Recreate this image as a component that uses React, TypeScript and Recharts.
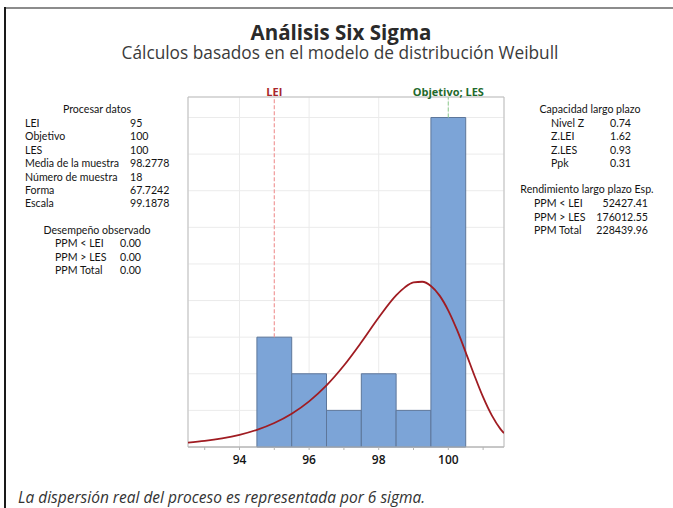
import React from "react";
import {
    ComposedChart,
    Line,
    XAxis,
    YAxis,
    CartesianGrid,
    ReferenceArea,
    ReferenceLine,
} from "recharts";

// Histogram bins (unit width) and the fitted Weibull curve
const binCenters = [95, 96, 97, 98, 99, 100];
const binCounts = [3, 2, 1, 2, 1, 9];
const curveX = [
    92.52, 93, 93.5, 94, 94.5, 95, 95.5, 96, 96.5, 97, 97.5, 98, 98.5, 98.75,
    99, 99.25, 99.5, 99.75, 100, 100.25, 100.5, 100.75, 101, 101.25, 101.5, 101.6,
];
const curveY = [
    0.118, 0.165, 0.235, 0.332, 0.468, 0.655, 0.908, 1.246, 1.682, 2.225, 2.86,
    3.535, 4.139, 4.36, 4.494, 4.514, 4.399, 4.135, 3.727, 3.197, 2.586, 1.954,
    1.361, 0.863, 0.489, 0.377,
];
const xTicks = [93, 94, 95, 96, 97, 98, 99, 100, 101];
const xLabelTicks = [94, 96, 98, 100];
const yGridTicks = [0, 1, 2, 3, 4, 5, 6, 7, 8, 9];
const X_DOMAIN: [number, number] = [92.52, 101.6];
const Y_DOMAIN: [number, number] = [0, 9.56];
const LEI = 95;
const LES = 100;

const processLabels = ["LEI", "Objetivo", "LES", "Media de la muestra", "Número de muestra", "Forma", "Escala"];
const processValues = ["95", "100", "100", "98.2778", "18", "67.7242", "99.1878"];
const observedLabels = ["PPM < LEI", "PPM > LES", "PPM Total"];
const observedValues = ["0.00", "0.00", "0.00"];
const capacityLabels = ["Nivel Z", "Z.LEI", "Z.LES", "Ppk"];
const capacityValues = ["0.74", "1.62", "0.93", "0.31"];
const yieldLabels = ["PPM < LEI", "PPM > LES", "PPM Total"];
const yieldValues = ["52427.41", "176012.55", "228439.96"];

const FONT = "'Open Sans', 'Noto Sans', sans-serif";
const PANEL_FONT = "Lato, 'Open Sans', sans-serif";
const TXT = "#141414";

const curveData = curveX.map((x, i) => ({ x, y: curveY[i] }));
const countAt = (x: number) => binCounts[binCenters.indexOf(x)];

const AxisTick = (props: any) => {
    const { x, y, payload } = props;
    if (!xLabelTicks.includes(payload.value)) return <g />;
    return (
        <text
            x={x}
            y={y}
            dy={12}
            textAnchor="middle"
            fontSize={12}
            fontWeight={600}
            fill={TXT}
            fontFamily={FONT}
        >
            {payload.value}
        </text>
    );
};

// absolutely placed text line, centred vertically on cy
const Txt: React.FC<{
    x: number;
    cy: number;
    align?: "left" | "center" | "right";
    children: React.ReactNode;
}> = ({ x, cy, align = "left", children }) => {
    const style: React.CSSProperties = {
        position: "absolute",
        top: cy - 7,
        height: 14,
        lineHeight: "14px",
        fontSize: 10.6,
        fontFamily: PANEL_FONT,
        whiteSpace: "nowrap",
        color: TXT,
    };
    if (align === "left") style.left = x;
    if (align === "right") style.right = 673 - x;
    if (align === "center") {
        style.left = x - 150;
        style.width = 300;
        style.textAlign = "center";
    }
    return <div style={style}>{children}</div>;
};

export default function App() {
    return (
        <div
            style={{
                position: "absolute",
                left: 0,
                top: 0,
                width: 673,
                height: 508,
                background: "#fff",
                overflow: "hidden",
                fontFamily: FONT,
            }}
        >
            {/* frame of the output window */}
            <div style={{ position: "absolute", left: 5, top: 7, right: 0, height: 2, background: "#8c8c8c" }} />
            <div style={{ position: "absolute", left: 4, top: 7, bottom: 0, width: 2, background: "#1a1a1a" }} />

            <div style={{ position: "absolute", left: 0, width: 682, top: 21, height: 22, lineHeight: "22px", textAlign: "center", fontSize: 20.5, fontWeight: 700, color: "#2a2a2a" }}>
                Análisis Six Sigma
            </div>
            <div style={{ position: "absolute", left: 0, width: 680, top: 43, height: 19, lineHeight: "19px", textAlign: "center", fontSize: 17.3, color: "#3a3a3a" }}>
                Cálculos basados en el modelo de distribución Weibull
            </div>

            {/* left panel */}
            <Txt x={97} cy={109} align="center">Procesar datos</Txt>
            {processLabels.map((l, i) => (
                <React.Fragment key={l}>
                    <Txt x={25} cy={123 + i * 13.4}>{l}</Txt>
                    <Txt x={130} cy={123 + i * 13.4}>{processValues[i]}</Txt>
                </React.Fragment>
            ))}
            <Txt x={97} cy={230} align="center">Desempeño observado</Txt>
            {observedLabels.map((l, i) => (
                <React.Fragment key={l}>
                    <Txt x={55} cy={243 + i * 13.5}>{l}</Txt>
                    <Txt x={120} cy={243 + i * 13.5}>{observedValues[i]}</Txt>
                </React.Fragment>
            ))}

            {/* right panel */}
            <Txt x={590} cy={109} align="center">Capacidad largo plazo</Txt>
            {capacityLabels.map((l, i) => (
                <React.Fragment key={l}>
                    <Txt x={551} cy={123 + i * 13.4}>{l}</Txt>
                    <Txt x={610} cy={123 + i * 13.4}>{capacityValues[i]}</Txt>
                </React.Fragment>
            ))}
            <Txt x={587} cy={189} align="center">Rendimiento largo plazo Esp.</Txt>
            {yieldLabels.map((l, i) => (
                <React.Fragment key={l}>
                    <Txt x={534} cy={203 + i * 13.5}>{l}</Txt>
                    <Txt x={648} cy={203 + i * 13.5} align="right">{yieldValues[i]}</Txt>
                </React.Fragment>
            ))}

            <div style={{ position: "absolute", left: 0, top: 0 }}>
                <ComposedChart
                    width={673}
                    height={508}
                    data={curveData}
                    margin={{ top: 97, right: 169, bottom: 31, left: 188 }}
                >
                    <CartesianGrid stroke="#ebebeb" strokeWidth={1} xAxisId="grid" />
                    <XAxis
                        dataKey="x"
                        type="number"
                        domain={X_DOMAIN}
                        ticks={xTicks}
                        allowDataOverflow
                        height={30}
                        tick={<AxisTick />}
                        tickSize={3}
                        axisLine={{ stroke: "#b4b4b4" }}
                        tickLine={{ stroke: "#b4b4b4" }}
                        interval={0}
                    />
                    {/* hidden twin axis, only used to place the vertical grid lines */}
                    <XAxis
                        xAxisId="grid"
                        dataKey="x"
                        type="number"
                        domain={X_DOMAIN}
                        ticks={xLabelTicks}
                        allowDataOverflow
                        hide
                    />
                    <YAxis type="number" domain={Y_DOMAIN} ticks={yGridTicks} allowDataOverflow hide />
                    <ReferenceArea
                        x1={X_DOMAIN[0]}
                        x2={X_DOMAIN[1]}
                        y1={Y_DOMAIN[0]}
                        y2={Y_DOMAIN[1]}
                        fill="none"
                        stroke="#bdbdbd"
                        strokeWidth={1}
                    />
                    {binCenters.map((c, i) => (
                        <ReferenceArea
                            key={c}
                            x1={c - 0.5}
                            x2={c + 0.5}
                            y1={0}
                            y2={binCounts[i]}
                            fill="#7ca4d7"
                            fillOpacity={1}
                            stroke="#5d769a"
                            strokeWidth={1}
                        />
                    ))}
                    {/* spec limit lines run from the bar top up, since the bars hide them */}
                    <ReferenceLine
                        segment={[{ x: LEI, y: countAt(LEI) }, { x: LEI, y: Y_DOMAIN[1] }]}
                        stroke="#f09a9a"
                        strokeDasharray="4 2"
                        strokeWidth={1.2}
                        label={{ value: "LEI", position: "top", offset: 1, fill: "#a8262b", fontSize: 11, fontWeight: 700, fontFamily: FONT }}
                    />
                    <ReferenceLine
                        segment={[{ x: LES, y: countAt(LES) }, { x: LES, y: Y_DOMAIN[1] }]}
                        stroke="#9ed39e"
                        strokeDasharray="4 2"
                        strokeWidth={1.2}
                        label={{ value: "Objetivo; LES", position: "top", offset: 1, fill: "#1f6a2c", fontSize: 11, fontWeight: 700, fontFamily: FONT }}
                    />
                    <Line
                        type="monotone"
                        dataKey="y"
                        stroke="#a01c22"
                        strokeWidth={1.8}
                        dot={false}
                        activeDot={false}
                        isAnimationActive={false}
                    />
                </ComposedChart>
            </div>

            <div
                style={{
                    position: "absolute",
                    left: 18,
                    top: 486,
                    fontSize: 15.5,
                    fontStyle: "italic",
                    color: "#333",
                    whiteSpace: "nowrap",
                }}
            >
                La dispersión real del proceso es representada por 6 sigma.
            </div>
        </div>
    );
}
